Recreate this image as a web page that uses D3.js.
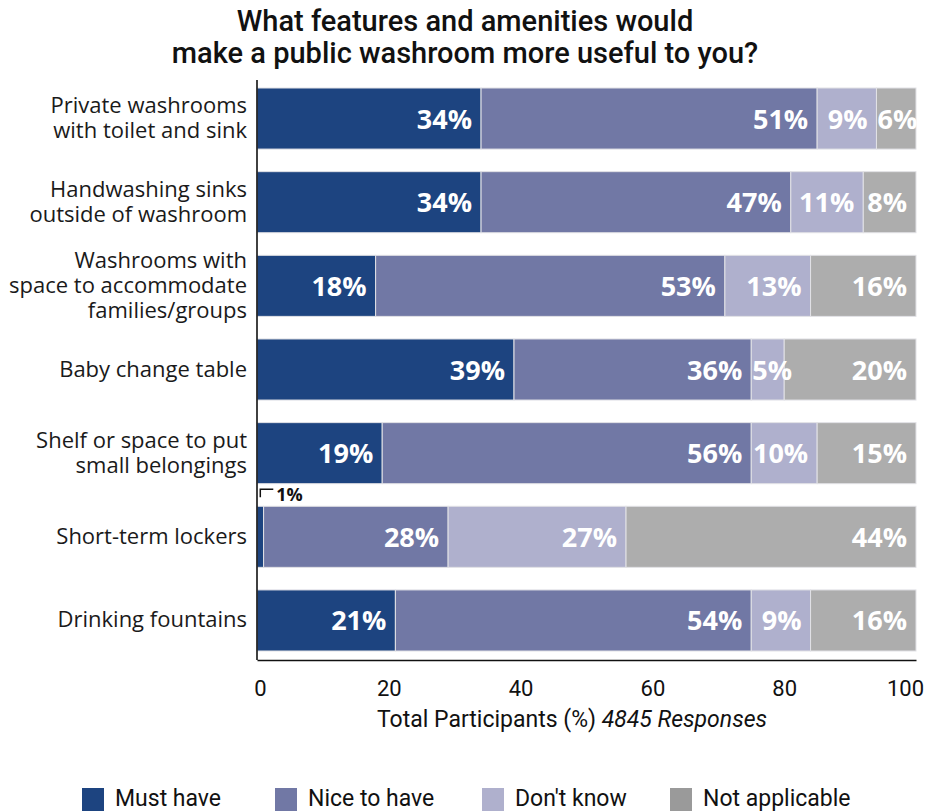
<!DOCTYPE html>
<html>
<head>
<meta charset="utf-8">
<script src="https://cdn.jsdelivr.net/npm/d3@7/dist/d3.min.js"></script>
<style>
  html, body { margin: 0; padding: 0; background: #fff; }
  svg { display: block; }
</style>
</head>
<body>
<svg id="chart" width="927" height="811"></svg>
<script>
// Survey responses, percent of participants per feature
const categories = [
  ["Private washrooms", "with toilet and sink"],
  ["Handwashing sinks", "outside of washroom"],
  ["Washrooms with", "space to accommodate", "families/groups"],
  ["Baby change table"],
  ["Shelf or space to put", "small belongings"],
  ["Short-term lockers"],
  ["Drinking fountains"]
];
const seriesNames = ["Must have", "Nice to have", "Don't know", "Not applicable"];
const mustHave      = [34, 34, 18, 39, 19, 1, 21];
const niceToHave    = [51, 47, 53, 36, 56, 28, 54];
const dontKnow      = [9, 11, 13, 5, 10, 27, 9];
const notApplicable = [6, 8, 16, 20, 15, 44, 16];
const xTicks = [0, 20, 40, 60, 80, 100];
const colors = ["#1d4480", "#7178a5", "#afb0cd", "#adadad"];
const legendColors = ["#1d4480", "#7178a5", "#afb0cd", "#9a9a9a"];

const headFont = "Roboto, 'Noto Sans', sans-serif";
const bodyFont = "'Open Sans', 'Noto Sans', sans-serif";

const svg = d3.select("#chart");

const rows = categories.map((c, i) => ({
  key: i, label: c,
  "Must have": mustHave[i],
  "Nice to have": niceToHave[i],
  "Don't know": dontKnow[i],
  "Not applicable": notApplicable[i]
}));

const x = d3.scaleLinear().domain([0, 100]).range([257, 916]);
const y = d3.scaleBand().domain(d3.range(categories.length)).range([88, 651])
  .paddingInner(0.27).paddingOuter(0);

const stacked = d3.stack().keys(seriesNames)(rows);

// Title
svg.append("text")
  .attr("text-anchor", "middle")
  .attr("font-family", headFont).attr("font-size", 29).attr("font-weight", 500)
  .attr("fill", "#111")
  .selectAll("tspan").data(["What features and amenities would", "make a public washroom more useful to you?"])
  .join("tspan").attr("x", 465).attr("y", (d, i) => 31 + i * 32).text(d => d);

// Bars
const layers = svg.append("g").selectAll("g").data(stacked).join("g")
  .attr("fill", (d, i) => colors[i]);

layers.selectAll("rect").data(d => d.map(s => ({ s, key: d.key })))
  .join("rect")
  .attr("x", d => x(d.s[0]))
  .attr("y", (d, i) => y(i))
  .attr("width", d => x(d.s[1]) - x(d.s[0]))
  .attr("height", y.bandwidth())
  .attr("stroke", "#e2e2e6").attr("stroke-width", 1);

// Value labels inside segments
const labelG = svg.append("g")
  .attr("font-family", bodyFont).attr("font-weight", 700).attr("font-size", 27);

stacked.forEach((layer, li) => {
  layer.forEach((s, i) => {
    const v = s[1] - s[0];
    const x0 = x(s[0]), x1 = x(s[1]);
    const cy = y(i) + y.bandwidth() / 2;
    if (v < 3) {
      // small segment: label above the bar with a bracket leader
      const mx = (x0 + x1) / 2;
      const top = y(i);
      labelG.append("path")
        .attr("d", `M${mx},${top - 9} L${mx},${top - 17} L${mx + 13},${top - 17}`)
        .attr("fill", "none").attr("stroke", "#111").attr("stroke-width", 1.5);
      labelG.append("text")
        .attr("x", mx + 16).attr("y", top - 5)
        .attr("font-size", 18).attr("fill", "#111")
        .text(v + "%");
      return;
    }
    const t = labelG.append("text")
      .attr("y", cy + 10)
      .attr("fill", "#fff")
      .attr("text-anchor", "end")
      .text(v + "%");
    const w = t.node().getComputedTextLength();
    t.attr("x", Math.max(x1 - 9, x0 + w + 1));
  });
});

// Category labels
const catG = svg.append("g")
  .attr("font-family", bodyFont).attr("font-size", 22).attr("fill", "#1a1a1a")
  .attr("text-anchor", "end");
categories.forEach((lines, i) => {
  const cy = y(i) + y.bandwidth() / 2;
  const lh = 25;
  const start = cy - (lines.length - 1) * lh / 2 + 7;
  const t = catG.append("text");
  lines.forEach((ln, j) => {
    t.append("tspan").attr("x", 247).attr("y", start + j * lh).text(ln);
  });
});

// Axes
const xAxis = svg.append("g").attr("transform", "translate(0,660)")
  .call(d3.axisBottom(x).tickValues(xTicks).tickSize(0).tickPadding(16).tickFormat(d3.format("d")));
xAxis.select(".domain").attr("stroke", "#111").attr("stroke-width", 1.6);
xAxis.selectAll("text").attr("font-family", headFont).attr("font-size", 22).attr("fill", "#111")
  .attr("dy", "0.9em");
xAxis.selectAll(".tick").filter(d => d === 100).select("text").attr("dx", -11);
xAxis.selectAll(".tick").filter(d => d === 0).select("text").attr("dx", 3);

svg.append("line")
  .attr("x1", x(0)).attr("x2", x(0)).attr("y1", 80).attr("y2", 660)
  .attr("stroke", "#111").attr("stroke-width", 1.6);

// Axis title
const at = svg.append("text")
  .attr("x", 572).attr("y", 727).attr("text-anchor", "middle")
  .attr("font-family", headFont).attr("font-size", 23).attr("fill", "#111");
at.append("tspan").text("Total Participants (%) ");
at.append("tspan").attr("font-style", "italic").text("4845 Responses");

// Legend
const legendX = [82, 275, 482, 670];
const lg = svg.append("g");
seriesNames.forEach((name, i) => {
  lg.append("rect").attr("x", legendX[i]).attr("y", 788).attr("width", 22).attr("height", 24)
    .attr("fill", legendColors[i]);
  lg.append("text").attr("x", legendX[i] + 33).attr("y", 806)
    .attr("font-family", headFont).attr("font-size", 23).attr("fill", "#111")
    .text(name);
});
</script>
</body>
</html>
